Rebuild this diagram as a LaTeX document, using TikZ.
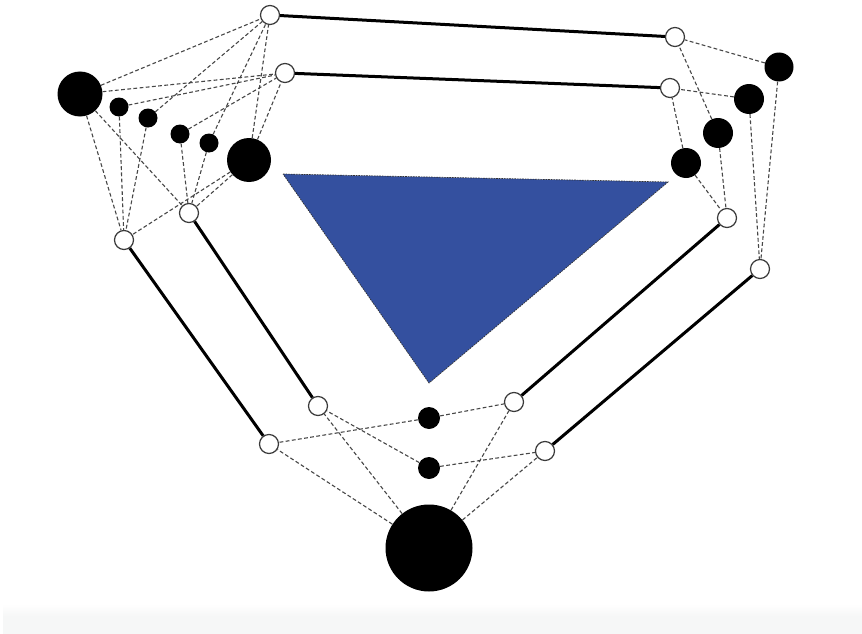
\documentclass[tikz,border=0pt]{standalone}
\usepackage{tikz}
\usetikzlibrary{positioning}
\definecolor{triBlue}{HTML}{34509F}
\definecolor{bandGray}{HTML}{F6F7F7}
\definecolor{jointGray}{HTML}{3A3A3A}
\tikzset{
  joint/.style={circle, draw=jointGray, line width=1.2pt, fill=white,
    minimum size=19pt, inner sep=0pt},
  hub/.style={circle, fill=black, draw=none, inner sep=0pt,
    minimum size=#1},
  tie/.style={dash pattern=on 3.8pt off 2.4pt, line width=1.1pt,
    draw=black!72},
  bar/.style={line width=3pt, draw=black},
  face/.style={fill=triBlue, draw=black!80, line width=0.7pt,
    dash pattern=on 1.6pt off 1pt}
}
\begin{document}
\begin{tikzpicture}[x=1pt, y=-1pt]
  \useasboundingbox (0,0) rectangle (862,634);
  \fill[white] (0,0) rectangle (862,634);
  \shade[top color=white, bottom color=bandGray] (3,604) rectangle (862,616);
  \fill[bandGray] (3,616) rectangle (862,634);

  \filldraw[face] (283,174) -- (668,182) -- (429,383) -- cycle;

  % left side
  \node[joint] (lt1) at (270,15) {};
  \node[joint] (lt2) at (285,73) {};
  \node[joint] (lb1) at (124,240) {};
  \node[joint] (lb2) at (189,213) {};
  \node[hub=45pt] (la) at (80,94) {};
  \node[hub=19pt] (lb) at (119,107) {};
  \node[hub=19pt] (lc) at (148,118) {};
  \node[hub=19pt] (ld) at (180,134) {};
  \node[hub=19pt] (le) at (209,143) {};
  \node[hub=44pt] (lf) at (249,160) {};

  % right side
  \node[joint] (rt1) at (675,37) {};
  \node[joint] (rt2) at (670,88) {};
  \node[joint] (rb1) at (727,218) {};
  \node[joint] (rb2) at (760,269) {};
  \node[hub=29pt] (ra) at (779,67) {};
  \node[hub=30pt] (rb) at (749,99) {};
  \node[hub=30pt] (rc) at (718,133) {};
  \node[hub=30pt] (rd) at (686,163) {};

  % bottom
  \node[joint] (bl1) at (318,406) {};
  \node[joint] (bl2) at (269,444) {};
  \node[joint] (br1) at (514,402) {};
  \node[joint] (br2) at (545,451) {};
  \node[hub=22pt] (ba) at (429,418) {};
  \node[hub=22pt] (bb) at (429,468) {};
  \node[hub=87pt] (bc) at (429,548) {};

  \draw[bar] (lt1) -- (rt1); \draw[bar] (lt2) -- (rt2);
  \draw[bar] (lb1) -- (bl2); \draw[bar] (lb2) -- (bl1);
  \draw[bar] (rb1) -- (br1); \draw[bar] (rb2) -- (br2);

  \draw[tie] (la) -- (lt1); \draw[tie] (la) -- (lt2);
  \draw[tie] (la) -- (lb1); \draw[tie] (la) -- (lb2);
  \draw[tie] (lb) -- (lt2); \draw[tie] (lb) -- (lb1);
  \draw[tie] (lc) -- (lt1); \draw[tie] (lc) -- (lb1);
  \draw[tie] (ld) -- (lt2); \draw[tie] (ld) -- (lb2);
  \draw[tie] (le) -- (lt1); \draw[tie] (le) -- (lb2);
  \draw[tie] (lf) -- (lt1); \draw[tie] (lf) -- (lt2);
  \draw[tie] (lf) -- (lb1); \draw[tie] (lf) -- (lb2);

  \draw[tie] (ra) -- (rt1); \draw[tie] (ra) -- (rb2);
  \draw[tie] (rb) -- (rt2); \draw[tie] (rb) -- (rb2);
  \draw[tie] (rc) -- (rt1); \draw[tie] (rc) -- (rb1);
  \draw[tie] (rd) -- (rt2); \draw[tie] (rd) -- (rb1);

  \draw[tie] (ba) -- (bl2); \draw[tie] (ba) -- (br1);
  \draw[tie] (bb) -- (bl1); \draw[tie] (bb) -- (br2);
  \draw[tie] (bc) -- (bl1); \draw[tie] (bc) -- (bl2);
  \draw[tie] (bc) -- (br1); \draw[tie] (bc) -- (br2);
\end{tikzpicture}
\end{document}
